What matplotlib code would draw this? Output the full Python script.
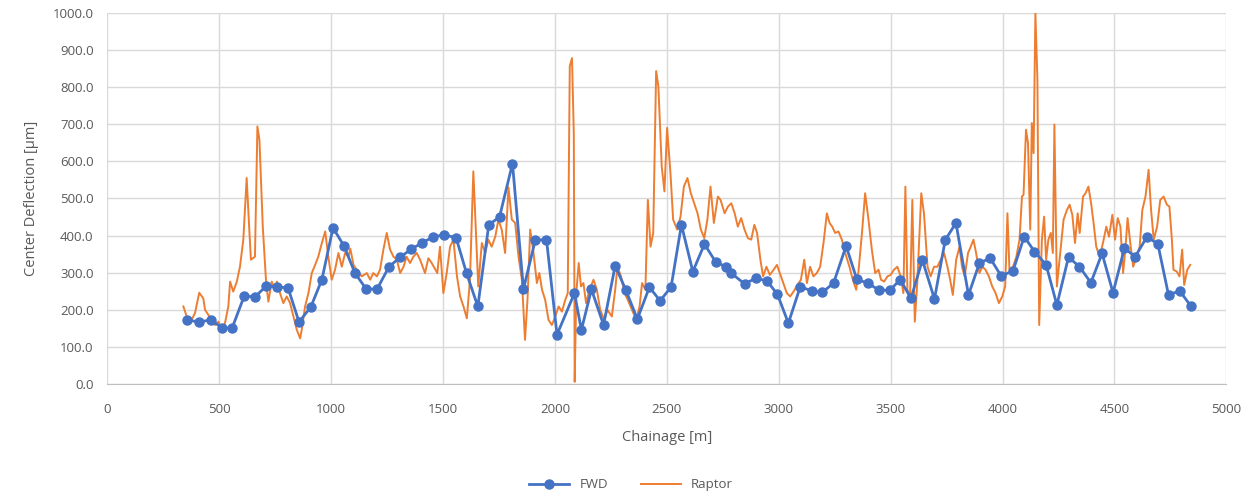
import matplotlib
matplotlib.use("Agg")
import matplotlib.pyplot as plt

plt.rcParams['font.family'] = ['Open Sans', 'DejaVu Sans']

fwd_chainage = [355, 409, 463, 512, 557, 611, 660, 709, 758, 807, 856, 909, 958, 1008, 1057,
                1106, 1156, 1205, 1258, 1307, 1356, 1405, 1454, 1505, 1558, 1605, 1655, 1704,
                1752, 1810, 1859, 1912, 1962, 2009, 2087, 2118, 2163, 2217, 2269, 2316, 2368,
                2422, 2470, 2519, 2565, 2616, 2668, 2719, 2765, 2787, 2847, 2898, 2947, 2994,
                3043, 3096, 3148, 3195, 3245, 3301, 3349, 3397, 3446, 3495, 3543, 3591, 3642,
                3696, 3744, 3792, 3848, 3897, 3945, 3994, 4047, 4097, 4143, 4195, 4243, 4295,
                4344, 4395, 4445, 4494, 4545, 4593, 4645, 4694, 4742, 4792, 4842]
fwd_deflection = [173, 167, 173, 151, 151, 237, 235, 264, 262, 259, 167, 208, 281, 421, 372,
                  299, 256, 256, 316, 341, 363, 380, 396, 402, 394, 298, 209, 429, 450, 594,
                  256, 388, 389, 133, 245, 146, 255, 159, 319, 254, 175, 261, 224, 262, 429,
                  303, 377, 328, 316, 299, 270, 285, 278, 242, 164, 262, 251, 247, 272, 372,
                  282, 272, 254, 252, 281, 231, 334, 229, 388, 434, 240, 326, 339, 291, 305,
                  397, 357, 321, 213, 342, 316, 273, 352, 246, 366, 343, 396, 378, 240, 251, 210]

raptor_chainage = [339, 354, 376, 391, 410, 428, 436, 451, 466, 481, 496, 511, 525, 540, 548,
                   562, 578, 592, 607, 622, 633, 641, 659, 670, 679, 694, 709, 719, 734, 749,
                   757, 771, 786, 801, 816, 831, 846, 861, 868, 883, 898, 913, 928, 942, 958,
                   973, 987, 1002, 1017, 1032, 1047, 1062, 1077, 1085, 1100, 1114, 1136, 1159,
                   1174, 1188, 1204, 1218, 1233, 1248, 1263, 1278, 1293, 1308, 1323, 1337, 1352,
                   1367, 1382, 1397, 1419, 1434, 1449, 1474, 1486, 1501, 1516, 1531, 1546, 1562,
                   1576, 1591, 1606, 1620, 1635, 1647, 1657, 1673, 1688, 1702, 1717, 1733, 1747,
                   1762, 1777, 1792, 1807, 1822, 1837, 1852, 1866, 1877, 1889, 1904, 1919, 1930,
                   1942, 1956, 1971, 1986, 2001, 2016, 2031, 2046, 2057, 2066, 2076, 2084, 2088,
                   2095, 2106, 2116, 2127, 2139, 2154, 2172, 2187, 2202, 2220, 2234, 2254, 2269,
                   2279, 2295, 2311, 2325, 2344, 2363, 2378, 2389, 2404, 2415, 2427, 2439, 2452,
                   2462, 2477, 2489, 2501, 2516, 2528, 2546, 2561, 2576, 2592, 2607, 2622, 2637,
                   2652, 2667, 2681, 2695, 2710, 2728, 2740, 2758, 2773, 2788, 2803, 2817, 2832,
                   2847, 2862, 2877, 2891, 2903, 2918, 2930, 2945, 2960, 2977, 2992, 3018, 3036,
                   3051, 3066, 3084, 3099, 3114, 3126, 3140, 3155, 3170, 3185, 3200, 3215, 3227,
                   3239, 3252, 3267, 3282, 3297, 3316, 3331, 3346, 3357, 3372, 3386, 3401, 3416,
                   3431, 3446, 3457, 3471, 3486, 3500, 3515, 3530, 3545, 3557, 3566, 3575, 3587,
                   3597, 3608, 3619, 3637, 3649, 3665, 3679, 3694, 3709, 3724, 3739, 3754, 3766,
                   3778, 3793, 3808, 3819, 3831, 3846, 3858, 3870, 3882, 3897, 3910, 3924, 3939,
                   3954, 3969, 3984, 3999, 4012, 4022, 4031, 4047, 4062, 4076, 4087, 4094, 4105,
                   4114, 4124, 4131, 4139, 4147, 4156, 4164, 4176, 4186, 4195, 4205, 4216, 4225,
                   4232, 4243, 4258, 4273, 4288, 4300, 4312, 4324, 4336, 4345, 4360, 4371, 4384,
                   4396, 4407, 4419, 4434, 4449, 4464, 4476, 4491, 4503, 4515, 4527, 4539, 4549,
                   4559, 4571, 4584, 4599, 4613, 4625, 4639, 4653, 4664, 4676, 4691, 4705, 4720,
                   4735, 4746, 4757, 4764, 4779, 4791, 4803, 4812, 4826, 4839]
raptor_deflection = [209, 182, 173, 191, 246, 231, 200, 186, 173, 159, 168, 146, 164, 209, 276,
                     249, 276, 316, 389, 555, 424, 335, 343, 694, 658, 424, 272, 222, 276, 254,
                     276, 245, 218, 236, 218, 182, 146, 123, 146, 209, 245, 299, 321, 343, 380,
                     411, 343, 281, 308, 353, 316, 353, 343, 365, 320, 308, 290, 299,
                     281, 299, 290, 308, 362, 407, 362, 343, 335, 299, 316, 343, 326,
                     343, 353, 335, 299, 339, 326, 299, 370, 245, 299, 370, 389, 290,
                     236, 209, 177, 281, 573, 407, 263, 380, 353, 389, 370, 397, 443,
                     416, 353, 530, 443, 434, 343, 281, 119, 227, 416, 353, 272, 299,
                     254, 227, 173, 159, 182, 209, 195, 227, 245, 856, 878, 676, 6,
                     245, 326, 263, 272, 218, 254, 281, 254, 200, 173, 200, 182, 254,
                     316, 290, 245, 227, 200, 173, 209, 272, 254, 496, 370, 407, 843,
                     802, 586, 519, 690, 568, 443, 416, 451, 532, 555, 514, 487, 460,
                     416, 393, 443, 532, 434, 505, 496, 460, 478, 487, 460, 424, 447,
                     416, 393, 389, 429, 407, 335, 290, 316, 294, 308, 321, 276, 245,
                     236, 249, 267, 281, 335, 272, 316, 290, 299, 316, 380, 460, 434,
                     424, 407, 411, 389, 353, 316, 281, 254, 308, 407, 514, 443, 362,
                     299, 308, 281, 276, 290, 294, 308, 316, 290, 245, 532, 254, 236,
                     496, 168, 272, 514, 460, 316, 290, 316, 316, 335, 353, 316, 281,
                     240, 335, 370, 316, 290, 353, 370, 389, 353, 299, 316, 308, 290,
                     263, 245, 218, 236, 263, 460, 308, 316, 343, 389, 505, 510, 685,
                     649, 416, 703, 622, 1000, 820, 159, 389, 451, 335, 389, 407, 353,
                     699, 263, 353, 443, 469, 483, 456, 380, 460, 407, 505, 514, 532,
                     487, 434, 370, 343, 380, 424, 397, 456, 389, 447, 424, 299, 362,
                     447, 380, 316, 343, 370, 469, 505, 577, 469, 389, 424, 496, 505,
                     483, 478, 389, 308, 303, 290, 362, 267, 308, 321]

x_ticks = [0, 500, 1000, 1500, 2000, 2500, 3000, 3500, 4000, 4500, 5000]
y_ticks = [0, 100, 200, 300, 400, 500, 600, 700, 800, 900, 1000]

fig = plt.figure(figsize=(12.5, 4.93), dpi=100)
ax = fig.add_axes([0.086, 0.221, 0.895, 0.753])

ax.plot(fwd_chainage, fwd_deflection, color='#4472C4', linewidth=2.0, marker='o',
        markersize=6.5, label='FWD', zorder=3)
ax.plot(raptor_chainage, raptor_deflection, color='#ED7D31', linewidth=1.4,
        label='Raptor', zorder=2)

ax.set_xlim(0, 5000)
ax.set_ylim(0, 1000)
ax.set_xticks(x_ticks)
ax.set_yticks(y_ticks)
ax.set_xticklabels([str(v) for v in x_ticks])
ax.set_yticklabels([f"{v:.1f}" for v in y_ticks])
ax.grid(True, color='#D9D9D9', linewidth=1.0)
ax.set_axisbelow(True)
for s in ['top', 'right', 'left']:
    ax.spines[s].set_visible(False)
ax.spines['bottom'].set_color('#BFBFBF')
ax.tick_params(axis='both', length=0, colors='#595959', labelsize=9.5)
ax.tick_params(axis='x', pad=14)
ax.tick_params(axis='y', pad=10)

ax.set_xlabel('Chainage [m]', color='#595959', fontsize=10.5, labelpad=10)
ax.set_ylabel('Center Deflection [µm]', color='#595959', fontsize=10.5, labelpad=10)

leg = fig.legend(loc='center', bbox_to_anchor=(0.505, 0.017), ncol=2, frameon=False,
                 fontsize=9.5, handlelength=3, columnspacing=2.5)
for t in leg.get_texts():
    t.set_color('#595959')

fig.savefig('out.png', dpi=100)
